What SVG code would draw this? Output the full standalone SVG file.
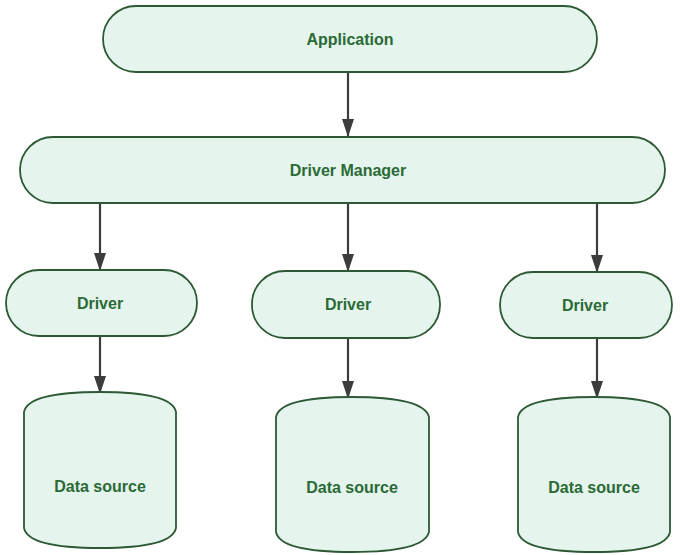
<svg xmlns="http://www.w3.org/2000/svg" width="680" height="555" viewBox="0 0 680 555">
<defs>
<style>
.n{fill:#e5f4ec;stroke:#2d5a34;stroke-width:1.8}
.t{font-family:"Liberation Sans",Arial,sans-serif;font-weight:bold;font-size:16px;fill:#2a6a36;text-anchor:middle;dominant-baseline:central}
.c{stroke:#3c3c3c;stroke-width:2.2;fill:none;marker-end:url(#ah)}
</style>
<marker id="ah" markerWidth="18" markerHeight="12" refX="17" refY="6" orient="auto" markerUnits="userSpaceOnUse">
<path d="M0,0 L18,6 L0,12 Z" fill="#3c3c3c"/>
</marker>
</defs>
<rect width="680" height="555" fill="#ffffff"/>
<g id="connectors">
<line class="c" x1="348" y1="72" x2="348" y2="136"/>
<line class="c" x1="100" y1="204" x2="100" y2="270"/>
<line class="c" x1="348" y1="204" x2="348" y2="271"/>
<line class="c" x1="597" y1="204" x2="597" y2="272"/>
<line class="c" x1="100" y1="337" x2="100" y2="393"/>
<line class="c" x1="348" y1="338" x2="348" y2="398"/>
<line class="c" x1="597" y1="338" x2="597" y2="398"/>
</g>
<g id="application">
<rect class="n" x="103" y="6" width="494" height="66" rx="33"/>
<text class="t" x="350" y="39">Application</text>
</g>
<g id="driver-manager">
<rect class="n" x="20" y="137" width="645" height="66" rx="33"/>
<text class="t" x="348" y="170">Driver Manager</text>
</g>
<g id="driver1">
<rect class="n" x="6" y="270" width="191" height="66" rx="33"/>
<text class="t" x="100" y="303">Driver</text>
</g>
<g id="driver2">
<rect class="n" x="252" y="271" width="188" height="67" rx="33"/>
<text class="t" x="348" y="304">Driver</text>
</g>
<g id="driver3">
<rect class="n" x="500" y="272" width="172" height="66" rx="33"/>
<text class="t" x="585" y="305">Driver</text>
</g>
<g id="ds1">
<path class="n" d="M24,412 Q28,392 100,392 Q172,392 176,412 L176,528 Q172,548 100,548 Q28,548 24,528 Z"/>
<text class="t" x="100" y="486">Data source</text>
</g>
<g id="ds2">
<path class="n" d="M276,417 Q280,397 352,397 Q424,397 429,417 L429,532 Q424,552 352,552 Q280,552 276,532 Z"/>
<text class="t" x="352" y="487">Data source</text>
</g>
<g id="ds3">
<path class="n" d="M518,417 Q522,397 594,397 Q666,397 670,417 L670,532 Q666,552 594,552 Q522,552 518,532 Z"/>
<text class="t" x="594" y="487">Data source</text>
</g>
</svg>
